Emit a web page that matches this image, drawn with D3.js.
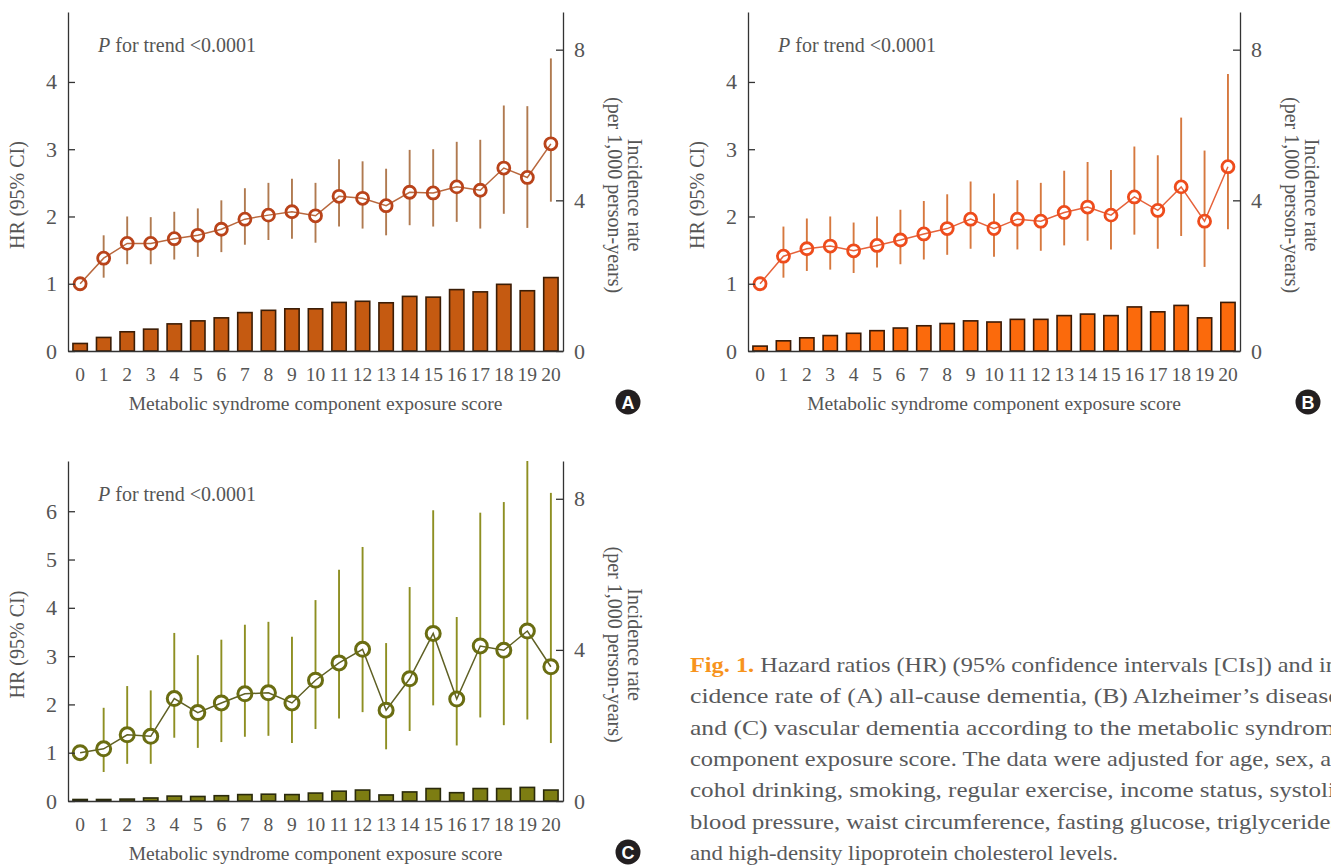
<!DOCTYPE html>
<html><head><meta charset="utf-8">
<script src="https://cdn.jsdelivr.net/npm/d3@7"></script>
<style>body{margin:0;background:#fff;} svg{display:block;}</style>
</head><body>
<svg id="chart" width="1331" height="866"></svg>
<script>
// ---------- DATA ----------
const scores = ["0","1","2","3","4","5","6","7","8","9","10","11","12","13","14","15","16","17","18","19","20"];

// Panel A: all-cause dementia
const hrA   = [1.00,1.38,1.60,1.60,1.67,1.72,1.81,1.96,2.02,2.07,2.01,2.30,2.27,2.16,2.36,2.35,2.44,2.39,2.72,2.58,3.08];
const loA   = [1.00,1.09,1.29,1.29,1.36,1.40,1.47,1.58,1.65,1.67,1.61,1.85,1.82,1.72,1.87,1.85,1.92,1.82,2.04,1.83,2.22];
const hiA   = [1.00,1.72,2.00,1.99,2.07,2.12,2.24,2.42,2.50,2.56,2.50,2.85,2.82,2.71,2.99,3.00,3.11,3.14,3.65,3.64,4.35];
const rateA = [0.20,0.36,0.51,0.58,0.72,0.80,0.88,1.02,1.08,1.12,1.12,1.29,1.32,1.28,1.45,1.43,1.63,1.57,1.77,1.60,1.95];

// Panel B: Alzheimer's disease
const hrB   = [1.00,1.41,1.52,1.56,1.49,1.57,1.65,1.74,1.82,1.96,1.82,1.96,1.93,2.06,2.14,2.02,2.29,2.09,2.44,1.93,2.74];
const loB   = [1.00,1.09,1.19,1.21,1.16,1.24,1.29,1.36,1.43,1.52,1.40,1.51,1.49,1.57,1.64,1.51,1.73,1.52,1.71,1.25,1.81];
const hiB   = [1.00,1.85,1.97,2.00,1.91,2.00,2.10,2.23,2.33,2.52,2.34,2.54,2.50,2.68,2.81,2.69,3.04,2.91,3.47,2.98,4.12];
const rateB = [0.13,0.27,0.35,0.41,0.47,0.54,0.61,0.67,0.73,0.80,0.77,0.84,0.84,0.94,0.98,0.94,1.17,1.04,1.21,0.88,1.29];

// Panel C: vascular dementia
const hrC   = [1.00,1.08,1.37,1.34,2.12,1.83,2.03,2.22,2.24,2.03,2.50,2.86,3.14,1.88,2.53,3.47,2.11,3.21,3.12,3.52,2.78];
const loC   = [1.00,0.60,0.77,0.77,1.31,1.10,1.22,1.33,1.35,1.20,1.49,1.71,1.84,1.07,1.45,1.98,1.15,1.73,1.57,1.69,1.20];
const hiC   = [1.00,1.93,2.38,2.29,3.48,3.02,3.34,3.65,3.71,3.40,4.16,4.79,5.26,3.27,4.43,6.02,3.81,5.97,6.19,7.10,6.38];
const rateC = [0.04,0.04,0.05,0.08,0.13,0.12,0.14,0.17,0.18,0.17,0.21,0.26,0.29,0.16,0.24,0.33,0.22,0.33,0.33,0.36,0.29];

const hrTicksAB = [0,1,2,3,4];
const hrTicksC  = [0,1,2,3,4,5,6];
const rateTicks = [0,4,8];

const pText = "for trend <0.0001";
const xTitle = "Metabolic syndrome component exposure score";
const yTitleL = "HR (95% CI)";
const yTitleR1 = "Incidence rate";
const yTitleR2 = "(per 1,000 person-years)";

const captionLead = "Fig. 1.";
const captionLines = [
  " Hazard ratios (HR) (95% confidence intervals [CIs]) and in-",
  "cidence rate of (A) all-cause dementia, (B) Alzheimer\u2019s disease,",
  "and (C) vascular dementia according to the metabolic syndrome",
  "component exposure score. The data were adjusted for age, sex, al-",
  "cohol drinking, smoking, regular exercise, income status, systolic",
  "blood pressure, waist circumference, fasting glucose, triglycerides,",
  "and high-density lipoprotein cholesterol levels."
];

// ---------- DRAW ----------
const svg = d3.select("#chart");
const FONT = "'Liberation Serif','Times New Roman',Times,serif";
const TXT = "#555";
const AX = "#333";

function panel(o) {
  const g = svg.append("g");
  const x = d3.scaleBand().domain(scores).range([o.x0, o.x1]).paddingInner(0.39).paddingOuter(0.21);
  const yL = d3.scaleLinear().domain([0, o.hrMax]).range([o.y1, o.y0]);
  const yR = d3.scaleLinear().domain([0, o.rateMax]).range([o.y1, o.y0]);
  const cx = i => x(scores[i]) + x.bandwidth() / 2;

  const clipId = "clip" + o.id;
  svg.append("clipPath").attr("id", clipId).append("rect")
    .attr("x", o.x0).attr("y", o.y0).attr("width", o.x1 - o.x0).attr("height", o.y1 - o.y0);

  // bars
  g.append("g").selectAll("rect").data(o.rate).join("rect")
    .attr("x", (d, i) => x(scores[i])).attr("y", d => yR(d))
    .attr("width", x.bandwidth()).attr("height", d => yR(0) - yR(d))
    .attr("fill", o.barFill).attr("stroke", o.barStroke).attr("stroke-width", 1.6);

  const pg = g.append("g").attr("clip-path", `url(#${clipId})`);
  // error bars
  pg.selectAll("line.err").data(o.hr).join("line").attr("class", "err")
    .attr("x1", (d, i) => cx(i)).attr("x2", (d, i) => cx(i))
    .attr("y1", (d, i) => yL(o.lo[i])).attr("y2", (d, i) => yL(o.hi[i]))
    .attr("stroke", o.errColor).attr("stroke-width", 1.9);
  // circle backgrounds (hide error bars inside markers)
  pg.selectAll("circle.bg").data(o.hr).join("circle").attr("class", "bg")
    .attr("cx", (d, i) => cx(i)).attr("cy", d => yL(d)).attr("r", o.r)
    .attr("fill", "#fff");
  // connecting line
  pg.append("path").datum(o.hr)
    .attr("d", d3.line().x((d, i) => cx(i)).y(d => yL(d)))
    .attr("fill", "none").attr("stroke", o.lineColor).attr("stroke-width", 1.5);
  // circles
  pg.selectAll("circle.pt").data(o.hr).join("circle").attr("class", "pt")
    .attr("cx", (d, i) => cx(i)).attr("cy", d => yL(d)).attr("r", o.r)
    .attr("fill", "none").attr("stroke", o.ptStroke).attr("stroke-width", o.sw);

  // axes
  const styleAxis = sel => {
    sel.select(".domain").attr("stroke", AX).attr("stroke-width", 1.3);
    sel.selectAll(".tick line").attr("stroke", AX).attr("stroke-width", 1.3);
    sel.selectAll(".tick text").attr("fill", TXT).attr("font-family", FONT);
  };
  const axL = g.append("g").attr("transform", `translate(${o.x0},0)`)
    .call(d3.axisLeft(yL).tickValues(o.hrTicks).tickSizeInner(-7).tickSizeOuter(0).tickPadding(11).tickFormat(d3.format("d")));
  styleAxis(axL); axL.selectAll(".tick text").attr("font-size", 22);
  const axR = g.append("g").attr("transform", `translate(${o.x1},0)`)
    .call(d3.axisRight(yR).tickValues(rateTicks).tickSizeInner(-7).tickSizeOuter(0).tickPadding(11).tickFormat(d3.format("d")));
  styleAxis(axR); axR.selectAll(".tick text").attr("font-size", 22);
  const axB = g.append("g").attr("transform", `translate(0,${o.y1})`)
    .call(d3.axisBottom(x).tickSize(0).tickPadding(16));
  styleAxis(axB); axB.selectAll(".tick text").attr("font-size", 19.5);

  // titles
  const mid = o.y0 + (o.y1 - o.y0) * 0.54;
  g.append("text").attr("transform", `translate(${o.x0 - 44},${mid}) rotate(-90)`)
    .attr("text-anchor", "middle").attr("font-family", FONT).attr("font-size", 20).attr("fill", TXT).text(yTitleL);
  g.append("text").attr("transform", `translate(${o.x1 + 65},${mid}) rotate(90)`)
    .attr("text-anchor", "middle").attr("font-family", FONT).attr("font-size", 20).attr("fill", TXT).text(yTitleR1);
  g.append("text").attr("transform", `translate(${o.x1 + 45},${mid}) rotate(90)`)
    .attr("text-anchor", "middle").attr("font-family", FONT).attr("font-size", 20).attr("fill", TXT).text(yTitleR2);
  g.append("text").attr("x", (o.x0 + o.x1) / 2).attr("y", o.y1 + 59)
    .attr("text-anchor", "middle").attr("font-family", FONT).attr("font-size", 19.5).attr("fill", TXT).text(xTitle);

  const pt = g.append("text").attr("x", o.x0 + 30).attr("y", o.y0 + 40)
    .attr("font-family", FONT).attr("font-size", 20).attr("fill", TXT);
  pt.append("tspan").attr("font-style", "italic").text("P");
  pt.append("tspan").text(" " + pText);

  // badge
  g.append("circle").attr("cx", o.badgeX).attr("cy", o.y1 + 51).attr("r", 12.5).attr("fill", "#231f20");
  g.append("text").attr("x", o.badgeX).attr("y", o.y1 + 57.5).attr("text-anchor", "middle")
    .attr("font-family", "'Liberation Sans',Arial,sans-serif").attr("font-weight", "bold")
    .attr("font-size", 18).attr("fill", "#fff").text(o.id);
}

panel({id: "A", x0: 68, x1: 563, y0: 12, y1: 351, hrMax: 5.04, rateMax: 9, hrTicks: hrTicksAB,
  hr: hrA, lo: loA, hi: hiA, rate: rateA, r: 6, sw: 2.8,
  barFill: "#c55a11", barStroke: "#3b1d06", errColor: "#b07a50", lineColor: "#b8683e",
  ptStroke: "#b9431a", badgeX: 628});
panel({id: "B", x0: 748, x1: 1240, y0: 12, y1: 351, hrMax: 5.04, rateMax: 9, hrTicks: hrTicksAB,
  hr: hrB, lo: loB, hi: hiB, rate: rateB, r: 6, sw: 2.8,
  barFill: "#fb6a0c", barStroke: "#3a1a06", errColor: "#d6783e", lineColor: "#e6623a",
  ptStroke: "#ee4c1c", badgeX: 1308});
panel({id: "C", x0: 68, x1: 563, y0: 461, y1: 801, hrMax: 7.04, rateMax: 9, hrTicks: hrTicksC,
  hr: hrC, lo: loC, hi: hiC, rate: rateC, r: 7, sw: 3,
  barFill: "#7d7d12", barStroke: "#2a2a0c", errColor: "#8e8f22", lineColor: "#5f6024",
  ptStroke: "#6a6d12", badgeX: 628});

// caption
const capX = 690, capRight = 1346, capY0 = 672, capStep = 31.3;
captionLines.forEach((line, i) => {
  const t = svg.append("text").attr("x", capX).attr("y", capY0 + i * capStep)
    .attr("font-family", FONT).attr("font-size", 22).attr("fill", "#58595b");
  if (i === 0) {
    t.append("tspan").attr("font-weight", "bold").attr("fill", "#f7941d").text(captionLead);
  }
  t.append("tspan").text(line);
  if (i < captionLines.length - 1) {
    t.attr("textLength", capRight - capX).attr("lengthAdjust", "spacingAndGlyphs");
  } else {
    t.attr("textLength", 1118 - capX).attr("lengthAdjust", "spacingAndGlyphs");
  }
});
</script>
</body></html>
